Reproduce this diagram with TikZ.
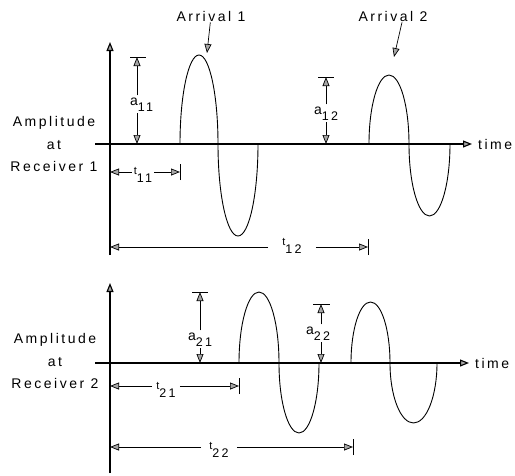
\documentclass[tikz,border=0pt]{standalone}
\usepackage{fontspec}
\setmainfont{Liberation Sans}[LetterSpace=18]
\usetikzlibrary{arrows.meta, positioning}

\newcommand{\alab}[1]{a\raisebox{-6pt}{\fontsize{12.5}{12.5}\selectfont #1}}
\newcommand{\tlab}[1]{{\fontsize{11}{11}\selectfont t}\raisebox{-8pt}{\fontsize{12.5}{12.5}\selectfont #1}}

\begin{document}
\begin{tikzpicture}[x=1pt,y=-1pt,
    >={Triangle[width=7pt,length=9pt,fill=gray!70]},
    axisline/.style={line width=1.1pt},
    wave/.style={line width=0.9pt},
    dim/.style={->,line width=0.7pt},
    tick/.style={line width=0.8pt},
    txt/.style={font=\fontsize{14}{16}\selectfont,inner sep=1pt},
    sublbl/.style={font=\fontsize{14}{16}\selectfont,inner sep=2pt},
    ylbl/.style={font=\fontsize{14}{22.5}\selectfont,align=center,inner sep=0pt}]
    \useasboundingbox (0,0) rectangle (515,475);

    % receiver 1
    \coordinate (ytop1) at (110,42);
    \coordinate (ybot1) at (110,255);
    \coordinate (xl1) at (95,144);
    \node[txt,anchor=west] (time1) at (477,144) {time};
    \draw[axisline,->] (ybot1) -- (ytop1);
    \draw[axisline,->] (xl1) -- ([xshift=-5pt]time1.west);
    \node[ylbl] (rec1) at (54,144) {Amplitude\\at\\Receiver 1};

    \coordinate (w11) at (180,144);
    \coordinate (w12) at (369,144);
    \draw[wave] (w11) arc[start angle=180,end angle=0,x radius=19pt,y radius=89pt]
        arc[start angle=180,end angle=360,x radius=20pt,y radius=92pt];
    \draw[wave] (w12) arc[start angle=180,end angle=0,x radius=20pt,y radius=69pt]
        arc[start angle=180,end angle=360,x radius=20.5pt,y radius=72pt];

    \node[txt] (arr1) at (211,16) {Arrival 1};
    \node[txt] (arr2) at (393,16) {Arrival 2};
    \coordinate (pk1) at (207,53);
    \coordinate (pk2) at (394,57);
    \draw[dim] (arr1) -- (pk1);
    \draw[dim] ([xshift=9pt]arr2.south) -- (pk2);

    \coordinate (a11t) at (137,57);
    \coordinate (a11b) at (137,144);
    \node[sublbl,anchor=base west] (a11) at (128,105) {\alab{11}};
    \draw[tick] ([xshift=-7pt]a11t) -- ([xshift=9pt]a11t);
    \draw[dim] (a11t |- a11.north) -- (a11t);
    \draw[dim] (a11b |- a11.south) -- (a11b);

    \coordinate (a12t) at (326,77);
    \coordinate (a12b) at (326,144);
    \node[sublbl,anchor=base west] (a12) at (312,114) {\alab{12}};
    \draw[tick] ([xshift=-8pt]a12t) -- ([xshift=8pt]a12t);
    \draw[dim] (a12t |- a12.north) -- (a12t);
    \draw[dim] (a12b |- a12.south) -- (a12b);

    \coordinate (t11l) at (110,172);
    \coordinate (t11r) at (180,172);
    \node[sublbl,anchor=base] (t11) at (143,174) {\tlab{11}};
    \draw[tick] ([yshift=-8pt]t11r) -- ([yshift=8pt]t11r);
    \draw[dim] (t11l -| t11.west) -- (t11l);
    \draw[dim] (t11r -| t11.east) -- (t11r);

    \coordinate (t12l) at (110,247);
    \coordinate (t12r) at (368,247);
    \node[sublbl,anchor=base] (t12) at (292,245) {\tlab{12}};
    \draw[tick] ([yshift=-8pt]t12r) -- ([yshift=8pt]t12r);
    \draw[dim] ([xshift=-12pt]t12l -| t12.west) -- (t12l);
    \draw[dim] ([xshift=12pt]t12r -| t12.east) -- (t12r);

    % receiver 2
    \coordinate (ytop2) at (110,283);
    \coordinate (ybot2) at (110,473);
    \coordinate (xl2) at (95,363);
    \node[txt,anchor=west] (time2) at (474,363) {time};
    \draw[axisline,->] (ybot2) -- (ytop2);
    \draw[axisline,->] (xl2) -- ([xshift=-5pt]time2.west);
    \node[ylbl] (rec2) at (55,361) {Amplitude\\at\\Receiver 2};

    \coordinate (w21) at (239,363);
    \coordinate (w22) at (351,363);
    \draw[wave] (w21) arc[start angle=180,end angle=0,x radius=20pt,y radius=71pt]
        arc[start angle=180,end angle=360,x radius=20pt,y radius=70pt];
    \draw[wave] (w22) arc[start angle=180,end angle=0,x radius=19.5pt,y radius=61pt]
        arc[start angle=180,end angle=360,x radius=23.5pt,y radius=60pt];

    \coordinate (a21t) at (200,292);
    \coordinate (a21b) at (200,363);
    \node[sublbl,anchor=base west] (a21) at (186,340) {\alab{21}};
    \draw[tick] ([xshift=-8pt]a21t) -- ([xshift=8pt]a21t);
    \draw[dim] (a21t |- a21.north) -- (a21t);
    \draw[dim] (a21b |- a21.south) -- (a21b);

    \coordinate (a22t) at (321,304);
    \coordinate (a22b) at (321,363);
    \node[sublbl,anchor=base west] (a22) at (304,334) {\alab{22}};
    \draw[tick] ([xshift=-8pt]a22t) -- ([xshift=9pt]a22t);
    \draw[dim] (a22t |- a22.north) -- (a22t);
    \draw[dim] (a22b |- a22.south) -- (a22b);

    \coordinate (t21l) at (110,386);
    \coordinate (t21r) at (239,386);
    \node[sublbl,anchor=base] (t21) at (166,389) {\tlab{21}};
    \draw[tick] ([yshift=-8pt]t21r) -- ([yshift=8pt]t21r);
    \draw[dim] ([xshift=-2pt]t21l -| t21.west) -- (t21l);
    \draw[dim] ([xshift=2pt]t21r -| t21.east) -- (t21r);

    \coordinate (t22l) at (110,447);
    \coordinate (t22r) at (353,447);
    \node[sublbl,anchor=base] (t22) at (219,449) {\tlab{22}};
    \draw[tick] ([yshift=-8pt]t22r) -- ([yshift=8pt]t22r);
    \draw[dim] ([xshift=-6pt]t22l -| t22.west) -- (t22l);
    \draw[dim] ([xshift=6pt]t22r -| t22.east) -- (t22r);
\end{tikzpicture}
\end{document}
